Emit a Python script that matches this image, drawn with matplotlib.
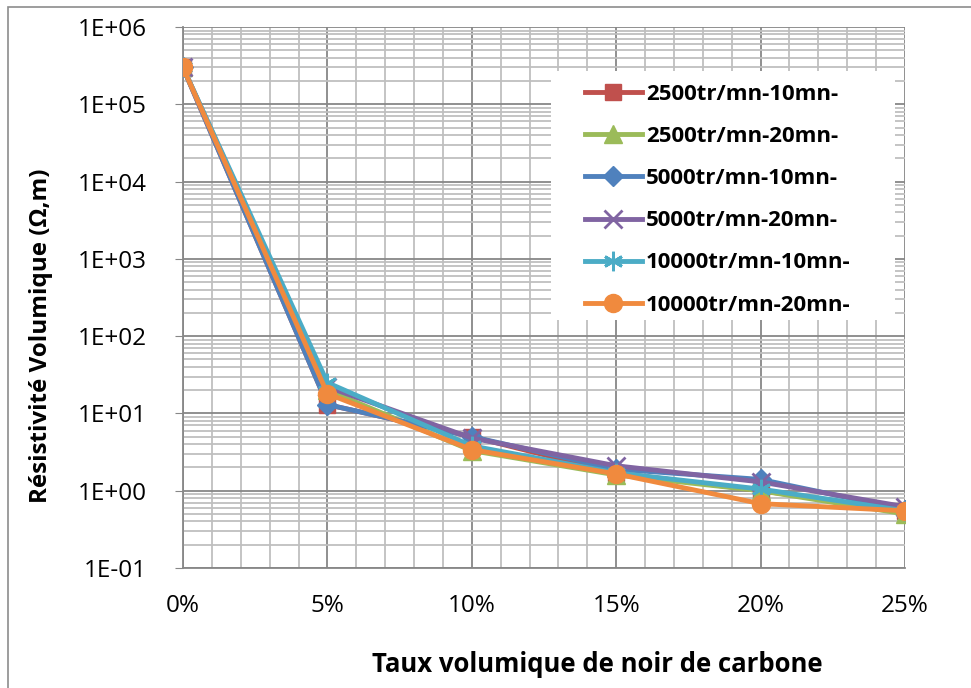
import matplotlib
matplotlib.use("Agg")
import matplotlib.pyplot as plt
from matplotlib.ticker import FixedLocator, FuncFormatter, LogLocator, NullFormatter
from matplotlib.patches import Rectangle

plt.rcParams['font.family'] = ['Open Sans', 'DejaVu Sans']

# Data
taux = [0, 5, 10, 15, 20, 25]
r_2500_10 = [3.0e5, 13, 5.0, 1.7, 1.0, 0.55]
r_2500_20 = [3.0e5, 20, 3.3, 1.6, 1.0, 0.50]
r_5000_10 = [3.0e5, 13, 5.0, 1.9, 1.4, 0.57]
r_5000_20 = [3.0e5, 22, 4.8, 2.1, 1.3, 0.62]
r_10000_10 = [3.0e5, 25, 3.8, 1.7, 1.05, 0.55]
r_10000_20 = [3.0e5, 18, 3.4, 1.65, 0.68, 0.55]

labels = ["2500tr/mn-10mn-", "2500tr/mn-20mn-", "5000tr/mn-10mn-",
          "5000tr/mn-20mn-", "10000tr/mn-10mn-", "10000tr/mn-20mn-"]
series = [r_2500_10, r_2500_20, r_5000_10, r_5000_20, r_10000_10, r_10000_20]
colors = ["#C0504D", "#9BBB59", "#4F81BD", "#8064A2", "#4BACC6", "#F08A3E"]
markers = ["s", "^", "D", "x", "*", "o"]
msizes = [12, 13, 10, 13, 14, 13]

W, H = 971, 688
fig = plt.figure(figsize=(W / 100, H / 100), dpi=100)
ax = fig.add_axes([183/W, 1 - 568/H, (905-183)/W, (568-27)/H])

# outer chart border
fig.patches.append(Rectangle((8/W, -0.1), 1.2, 1 - 7/H + 0.1,
                             transform=fig.transFigure, fill=False,
                             edgecolor="#8C8C8C", linewidth=1.2))

# white legend area over the grid
ax.add_patch(Rectangle((551/W, 1 - 320/H), (895-551)/W, (320-71)/H,
                       transform=fig.transFigure, facecolor="white",
                       edgecolor="none", zorder=2))

for y, lab, c, m, ms in zip(series, labels, colors, markers, msizes):
    mew = 2 if m in ("x", "*") else 1
    if m == "*":
        # Excel asterisk marker
        m = (6, 2, 0)
    ax.plot(taux, y, color=c, linewidth=3.5, marker=m, markersize=ms,
            markeredgewidth=mew, markerfacecolor=c, markeredgecolor=c,
            label=lab, solid_joinstyle="round", zorder=3)

ax.set_yscale("log")
ax.set_ylim(0.1, 1e6)
ax.set_xlim(0, 25)

ax.xaxis.set_major_locator(FixedLocator([0, 5, 10, 15, 20, 25]))
ax.xaxis.set_minor_locator(FixedLocator([i for i in range(26) if i % 5]))
ax.xaxis.set_major_formatter(FuncFormatter(lambda v, p: f"{int(round(v))}%"))
ax.yaxis.set_major_locator(LogLocator(base=10, numticks=20))
ax.yaxis.set_minor_locator(LogLocator(base=10, subs=range(2, 10), numticks=20))
ax.yaxis.set_minor_formatter(NullFormatter())
ax.yaxis.set_major_formatter(FuncFormatter(lambda v, p: f"{v:.0E}"))

ax.grid(which="minor", color="#BFBFBF", linewidth=1.3)
ax.grid(which="major", color="#878787", linewidth=1.3)
ax.set_axisbelow(True)

for s in ["top", "right"]:
    ax.spines[s].set_visible(False)
for s in ["left", "bottom"]:
    ax.spines[s].set_color("#878787")
    ax.spines[s].set_linewidth(1.3)

ax.tick_params(axis="y", which="major", length=6, color="#878787", labelsize=17.5, pad=20)
ax.tick_params(axis="y", which="minor", length=0)
ax.tick_params(axis="x", which="both", length=0, labelsize=17.5, pad=19)

ax.set_ylabel("Résistivité Volumique (Ω,m)", fontsize=17.5, fontweight="bold", va="center")
ax.yaxis.set_label_coords((41 - 183) / 722, (568 - 336) / 541)
ax.set_xlabel("Taux volumique de noir de carbone", fontsize=18.5, fontweight="bold", va="center")
ax.xaxis.set_label_coords((597 - 183) / 722, (568 - 664) / 541)

leg = ax.legend(loc="upper left", bbox_to_anchor=(585/W, 1 - 84/H),
                bbox_transform=fig.transFigure, frameon=False,
                prop={"weight": "bold", "size": 16}, handlelength=2.55,
                labelspacing=0.95, borderpad=0, borderaxespad=0, handletextpad=0.2)
leg.set_zorder(4)

fig.savefig("out.png", dpi=100)
